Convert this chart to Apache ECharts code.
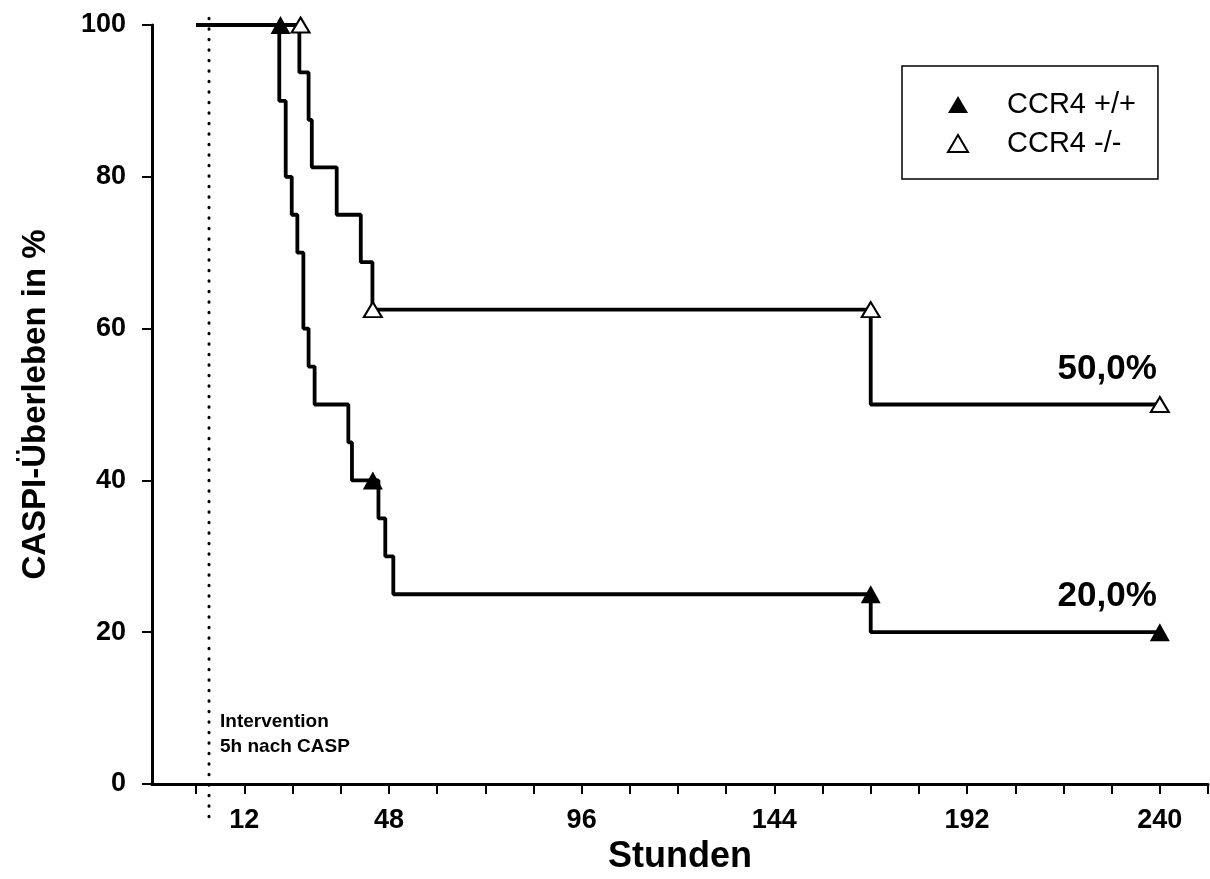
<!DOCTYPE html>
<html>
<head>
<meta charset="utf-8">
<script src="https://cdn.jsdelivr.net/npm/echarts@6/dist/echarts.min.js"></script>
<style>
  html, body { margin: 0; padding: 0; background: #fff; }
  #chart { width: 1210px; height: 879px; }
</style>
</head>
<body>
<div id="chart"></div>
<script>
const FONT = '"Liberation Sans", Arial, Helvetica, sans-serif';

// Kaplan–Meier steps: time of each step (hours) and survival after it (%)
const wtTimes    = [0, 20.7, 22.3, 23.8, 25.2, 26.7, 28, 29.5, 37.9, 38.8, 45.4, 47.1, 49.1, 168, 240];
const wtSurvival = [100, 90, 80, 75, 70, 60, 55, 50, 45, 40, 35, 30, 25, 20, 20];
const koTimes    = [0, 25.7, 28, 28.8, 35, 41, 43.9, 168, 240];
const koSurvival = [100, 93.75, 87.5, 81.25, 75, 68.75, 62.5, 50, 50];

// Triangle markers on the curves
const wtMarkTimes    = [21, 44, 168, 240];
const wtMarkSurvival = [100, 40, 25, 20];
const koMarkTimes    = [26, 44, 168, 240];
const koMarkSurvival = [100, 62.5, 62.5, 50];

const groupNames = ['CCR4 +/+', 'CCR4 -/-'];

// Axes
const xMin = -11, xMax = 252;
const xTickValues  = [0, 12, 24, 36, 48, 60, 72, 84, 96, 108, 120, 132, 144, 156, 168, 180, 192, 204, 216, 228, 240, 252];
const xLabelValues = [12, 48, 96, 144, 192, 240];
const yMin = 0, yMax = 100, yStep = 20;
const xTitle = 'Stunden';
const yTitle = 'CASPI-Überleben in %';

// Intervention marker
const interventionTime = 3.2;
const interventionSpan = [100.9, -4.3];
const interventionText = ['Intervention', '5h nach CASP'];
const interventionTextAt = [3.2, 6.6];

const zip = (a, b) => a.map((v, i) => [v, b[i]]);

function markerData(times, surv) {
  return times.map((t, i) => {
    const item = { value: [t, surv[i]] };
    if (i === times.length - 1) {
      item.label = {
        show: true,
        position: 'top',
        align: 'right',
        distance: 9,
        offset: [-3, 0],
        formatter: p => p.value[1].toFixed(1).replace('.', ',') + '%',
        fontFamily: FONT, fontWeight: 'bold', fontSize: 35, color: '#000', opacity: 1
      };
    }
    return item;
  });
}

const chart = echarts.init(document.getElementById('chart'));
chart.setOption({
  animation: false,
  backgroundColor: '#fff',
  textStyle: { fontFamily: FONT, color: '#000' },
  grid: { left: 152, right: 2, top: 25, bottom: 95, outerBoundsMode: 'none', containLabel: false },
  legend: {
    data: groupNames,
    orient: 'vertical',
    left: 902, top: 66,
    padding: [24, 22, 21, 45],
    itemGap: 10,
    itemWidth: 20, itemHeight: 17,
    borderColor: '#000', borderWidth: 1.5,
    itemStyle: { opacity: 1 },
    textStyle: { fontFamily: FONT, fontSize: 29, color: '#000', padding: [0, 0, 0, 34] },
    selectedMode: false
  },
  xAxis: {
    type: 'value', min: xMin, max: xMax,
    name: xTitle, nameLocation: 'middle', nameGap: 54,
    nameTextStyle: { fontFamily: FONT, fontWeight: 'bold', fontSize: 36, color: '#000' },
    axisLine: { show: true, onZero: false, lineStyle: { color: '#000', width: 3 } },
    axisTick: { show: true, inside: false, length: 10, lineStyle: { color: '#000', width: 2 }, customValues: xTickValues },
    axisLabel: { show: true, margin: 23, fontFamily: FONT, fontWeight: 'bold', fontSize: 27, color: '#000', customValues: xLabelValues },
    splitLine: { show: false }
  },
  yAxis: {
    type: 'value', min: yMin, max: yMax, interval: yStep,
    name: yTitle, nameLocation: 'middle', nameGap: 100,
    nameTextStyle: { fontFamily: FONT, fontWeight: 'bold', fontSize: 33, color: '#000' },
    axisLine: { show: true, onZero: false, lineStyle: { color: '#000', width: 3 } },
    axisTick: { show: true, inside: false, length: 10, lineStyle: { color: '#000', width: 2 } },
    axisLabel: { margin: 26, fontFamily: FONT, fontWeight: 'bold', fontSize: 27, color: '#000' },
    splitLine: { show: false }
  },
  series: [
    {
      name: 'Intervention', type: 'line', clip: false, silent: true, z: 1,
      symbol: 'none',
      data: interventionSpan.map(v => [interventionTime, v]),
      lineStyle: { color: '#000', width: 3, type: [0.5, 10], cap: 'round' },
      markPoint: {
        symbol: 'circle', symbolSize: 0, silent: true,
        data: [{
          coord: interventionTextAt,
          label: {
            show: true, position: 'inside', align: 'left', verticalAlign: 'middle',
            offset: [11, 0], lineHeight: 25,
            formatter: interventionText.join('\n'),
            fontFamily: FONT, fontWeight: 'bold', fontSize: 19, color: '#000'
          }
        }]
      }
    },
    {
      name: 'km-wt', type: 'line', step: 'end', symbol: 'none', silent: true, z: 2,
      data: zip(wtTimes, wtSurvival),
      lineStyle: { color: '#000', width: 3.8 }
    },
    {
      name: 'km-ko', type: 'line', step: 'end', symbol: 'none', silent: true, z: 2,
      data: zip(koTimes, koSurvival),
      lineStyle: { color: '#000', width: 3.8 }
    },
    {
      name: groupNames[0], type: 'scatter', symbol: 'triangle', symbolSize: [20, 18], z: 4,
      itemStyle: { color: '#000', opacity: 1 },
      data: markerData(wtMarkTimes, wtMarkSurvival)
    },
    {
      name: groupNames[1], type: 'scatter', symbol: 'triangle', symbolSize: [18, 15], z: 5,
      itemStyle: { color: '#fff', borderColor: '#000', borderWidth: 2, opacity: 1 },
      data: markerData(koMarkTimes, koMarkSurvival)
    }
  ]
});
</script>
</body>
</html>
